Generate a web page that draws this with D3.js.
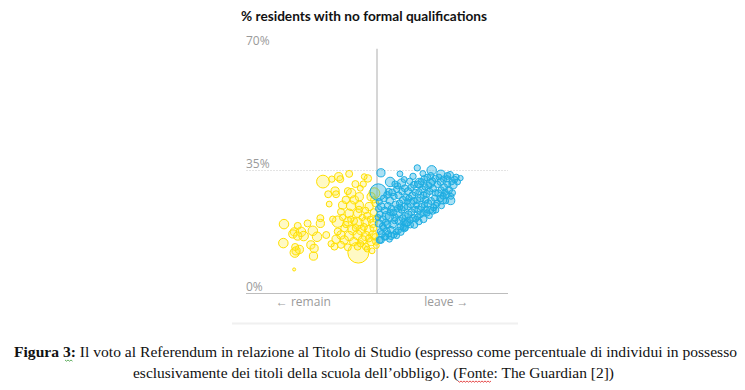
<!DOCTYPE html>
<html><head><meta charset="utf-8">
<script src="https://cdn.jsdelivr.net/npm/d3@7"></script>
<style>
body{margin:0;background:#fff;}
svg{display:block;}
</style></head>
<body>
<svg id="chart" width="745" height="390"></svg>
<script>
// ---- data: [leave %, % no formal qualifications, population (thousands)] ----
const remainAreas = [
[33.5,31.7,590],[36.2,32.4,100],[38.3,33.1,200],[38.8,32.4,130],[41.5,33.9,130],[47.2,32.6,160],
[43.4,31.0,130],[35.1,28.1,130],[37.2,29.0,200],[37.5,28.1,130],[41.1,29.0,130],[42.1,28.4,290],
[44.9,29.8,80],[48.2,27.4,200],[40.5,26.5,160],[43.1,26.5,200],[44.6,27.4,200],[35.4,25.3,80],
[39.5,25.0,200],[42.1,24.8,290],[44.6,25.0,200],[47.6,24.6,200],[39.0,23.1,130],[41.5,22.7,200],
[44.1,22.7,200],[38.0,20.3,450],[41.1,20.3,200],[44.1,19.8,450],[46.6,20.3,290],[48.7,19.8,200],
[40.0,18.4,130],[42.6,17.9,290],[45.1,17.9,290],[47.6,17.9,290],[39.0,16.5,200],[41.5,16.2,290],
[44.1,16.5,290],[46.6,16.2,290],[48.7,16.5,200],[37.5,15.3,200],[40.0,15.1,200],[42.9,14.6,200],
[45.6,15.1,200],[48.2,14.6,200],[37.0,13.2,130],[39.0,13.7,130],[41.1,13.0,130],[44.1,13.2,130],
[44.3,11.5,1800],[46.6,13.2,130],[49.7,14.6,130],
[21.6,19.6,290],[21.4,14.2,290],[24.8,17.4,200],[25.8,19.1,130],[24.3,16.8,200],[26.8,17.4,290],
[27.6,16.2,290],[25.8,16.2,200],[25.3,12.0,200],[25.0,13.1,130],[26.3,12.4,200],[24.9,11.5,290],
[28.8,19.8,130],[30.4,17.7,290],[31.7,16.0,290],[32.7,21.3,130],[32.7,19.8,200],[29.8,13.7,200],
[30.8,12.7,200],[30.6,10.5,200],[24.7,6.7,8],
[49.2,28.4,400],[49.5,25.5,130],[49.0,23.0,130],[49.6,21.0,100],[48.9,18.5,130],[49.4,16.0,100],
[49.8,13.5,80],[47.0,22.0,130],[46.0,18.8,130],[45.5,21.5,100],[47.5,15.5,130],[43.0,20.5,130],
[45.0,14.0,100],[48.0,21.0,100],[46.5,23.5,100],[43.5,18.5,130],[40.5,19.5,100],[39.5,21.5,100],
[47.0,12.5,80],[48.5,12.0,80],[42.0,21.0,100],[44.5,23.8,100],[36.5,21.0,100],[38.0,17.5,130],
[34.5,16.5,130],[36.0,14.0,100],[49.0,26.5,100],[46.1,33.1,80],[45.8,31.0,100]
];
const leaveAreas = [
[51.2,34.2,200],[54.0,31.6,290],[57.5,31.3,200],[57.0,33.9,80],[62.3,35.6,100],[66.7,34.9,290],
[69.5,33.8,200],[75.5,32.7,60],[62.9,31.3,290],[66.3,31.2,200],[73.2,30.8,200],[70.0,26.5,200],
[72.5,26.3,200],[67.0,23.4,130],[64.2,21.0,130],[61.4,19.4,130],[58.3,18.4,130],[54.3,16.2,130],
[51.2,15.1,130],[71.5,33.3,130],
[50.8,15.1,130],[51.5,16.8,130],[52.0,18.5,100],[50.6,19.8,160],[51.8,21.0,130],[50.9,22.4,100],
[52.4,23.5,130],[51.3,24.6,160],[50.7,26.0,100],[52.1,26.9,130],[52.6,20.1,100],[53.0,17.6,130],
[52.8,22.0,200],[53.3,24.8,130],[51.0,17.5,80],[50.3,21.5,80],[50.5,24.0,100],[51.7,19.0,100],
[52.3,15.9,100],[53.1,27.9,130],
[53.5,16.8,100],[54.2,18.0,130],[54.8,19.5,160],[55.4,20.6,100],[53.8,21.8,200],[55.0,22.9,130],
[54.4,24.1,100],[55.7,25.2,130],[53.9,26.3,160],[55.2,27.5,100],[54.6,28.6,130],[56.0,29.5,100],
[55.9,17.4,80],[54.0,23.0,100],[55.5,21.5,130],[53.2,19.5,130],[56.2,24.0,100],[53.6,28.8,130],
[56.5,17.8,100],[57.2,19.0,130],[58.0,18.7,100],[56.8,20.5,160],[57.8,21.3,130],[58.6,22.0,100],
[56.4,22.8,200],[57.5,23.7,130],[58.3,24.5,160],[56.9,25.6,100],[57.9,26.5,130],[58.8,27.2,100],
[56.6,27.8,130],[57.6,28.9,100],[58.5,29.8,130],[56.3,30.5,100],[59.0,19.8,100],[57.0,24.5,80],
[58.1,20.2,80],
[59.3,20.0,130],[60.1,20.8,100],[61.0,21.4,130],[59.6,22.3,160],[60.5,23.0,130],[61.5,23.8,100],
[59.4,24.6,130],[60.3,25.5,200],[61.2,26.2,130],[59.8,27.0,100],[60.8,27.8,130],[61.7,28.6,100],
[59.5,29.0,130],[60.4,30.0,100],[61.3,30.8,130],[60.0,31.8,100],[61.8,21.0,80],[62.0,25.0,100],
[59.2,26.0,80],
[62.4,21.6,100],[63.2,22.4,130],[64.1,22.9,100],[62.7,23.7,160],[63.6,24.5,130],[64.5,25.1,100],
[62.3,26.4,130],[63.3,27.0,160],[64.2,27.8,130],[62.8,28.8,100],[63.8,29.5,130],[64.7,30.2,100],
[62.5,30.9,130],[63.5,31.7,100],[64.4,32.4,130],[65.0,23.8,100],[64.8,26.5,130],
[65.3,22.8,100],[66.2,23.6,130],[67.3,24.3,100],[65.6,25.5,160],[66.5,26.2,130],[67.6,27.0,100],
[65.2,28.2,130],[66.1,28.9,100],[67.1,29.7,130],[65.8,30.6,100],[66.9,31.8,130],[67.8,32.6,100],
[65.4,32.8,130],[66.4,33.4,100],[68.0,25.0,80],[67.8,28.5,100],
[68.4,25.6,100],[69.3,26.9,130],[70.2,27.6,100],[68.7,28.4,130],[69.6,29.3,100],[70.5,30.1,130],
[68.5,30.9,100],[69.4,31.6,130],[70.3,32.4,100],[68.9,33.0,80],[70.8,28.7,100],
[71.2,28.0,100],[72.0,29.3,130],[71.6,30.9,100],[72.8,31.6,80],[73.7,32.3,100],[71.4,32.5,100],
[72.3,33.6,130],[74.2,33.0,80],[73.0,28.5,100],[74.6,31.6,80],[72.6,27.5,80],
[52.7,16.0,100],[53.8,15.3,80],[55.2,16.6,100],[56.0,16.3,80],[57.3,17.3,100],[58.7,18.5,80],
[60.2,19.4,100],[62.8,20.3,100],[66.0,22.0,80],[68.0,23.6,80],[69.7,24.8,80],[71.0,26.2,80],
[55.5,31.0,100],[58.3,32.3,80],[64.0,34.0,80],[61.0,33.2,100],
[50.4,28.7,1070]
];
const yTicks = [0, 35, 70];
const sideLabels = ["← remain", "leave →"];
const sideLabelAt = [27.5, 71.2];
const titleText = "% residents with no formal qualifications";
const captionBold = "Figura 3:";
const captionLine1 = " Il voto al Referendum in relazione al Titolo di Studio (espresso come percentuale di individui in possesso";
const captionLine2 = "esclusivamente dei titoli della scuola dell’obbligo). (Fonte: The Guardian [2])";

// ---- drawing ----
const svg = d3.select("#chart");
const x = d3.scaleLinear().domain([10, 90]).range([246, 508]);
const y = d3.scaleLinear().domain([0, 70]).range([293, 47]);
const r = d3.scaleSqrt().domain([0, 1800]).range([0.9, 10.5]);

svg.append("text").attr("x", 241).attr("y", 21)
  .attr("font-family", "Lato, 'Open Sans', sans-serif").attr("font-weight", 700)
  .attr("font-size", 13.6).attr("fill", "#121212")
  .attr("textLength", 246).attr("lengthAdjust", "spacingAndGlyphs").text(titleText);

// y axis with gridlines
const ax = svg.append("g").attr("transform", `translate(${x.range()[0]},0)`)
  .call(d3.axisRight(y).tickValues(yTicks).tickSize(x.range()[1] - x.range()[0]).tickFormat(d => d + "%"));
ax.select(".domain").remove();
ax.selectAll(".tick line")
  .attr("stroke", d => d === 0 ? "#bdbdbd" : "#e4e4e4")
  .attr("stroke-dasharray", d => d === 0 ? null : "2,1")
  .attr("stroke-width", d => d === 0 ? 1.2 : 1)
  .attr("opacity", d => d === 70 ? 0 : 1);
ax.selectAll(".tick text")
  .attr("x", 0).attr("y", 0).attr("dy", -3).attr("text-anchor", "start")
  .attr("font-family", "'Open Sans', sans-serif").attr("font-size", 12)
  .attr("fill", "#9a9a9a");

// centre line at 50%
svg.append("line").attr("x1", x(50)).attr("x2", x(50))
  .attr("y1", y(69.5)).attr("y2", y(0))
  .attr("stroke", "#c8c8c8").attr("stroke-width", 1.5);

// points
const yellowStroke = "#ffe000", yellowFill = "rgba(255,236,60,0.3)";
const blueStroke = "#1eade2", blueFill = "rgba(30,173,226,0.38)";
svg.append("g").selectAll("circle").data(remainAreas.slice().sort((a, b) => b[2] - a[2])).join("circle")
  .attr("cx", d => x(d[0])).attr("cy", d => y(d[1])).attr("r", d => r(d[2]))
  .attr("fill", yellowFill).attr("stroke", yellowStroke).attr("stroke-width", 1);
svg.append("g").selectAll("circle").data(leaveAreas.slice().sort((a, b) => b[2] - a[2])).join("circle")
  .attr("cx", d => x(d[0])).attr("cy", d => y(d[1])).attr("r", d => r(d[2]))
  .attr("fill", blueFill).attr("stroke", blueStroke).attr("stroke-width", 1);

// side labels
svg.append("g").selectAll("text").data(sideLabels).join("text")
  .attr("x", (d, i) => x(sideLabelAt[i])).attr("y", 306).attr("text-anchor", "middle")
  .attr("font-family", "'Open Sans', sans-serif").attr("font-size", 12)
  .attr("fill", "#9a9a9a").text(d => d);

// separator
svg.append("line").attr("x1", 232).attr("x2", 518).attr("y1", 323.5).attr("y2", 323.5)
  .attr("stroke", "#f0f0f0").attr("stroke-width", 2);

// caption
const serif = "'Liberation Serif', 'Times New Roman', serif";
const cap1 = svg.append("text").attr("x", 14).attr("y", 357)
  .attr("font-family", serif).attr("font-size", 15)
  .attr("fill", "#111").attr("textLength", 723).attr("lengthAdjust", "spacingAndGlyphs");
cap1.append("tspan").attr("font-weight", 700).text(captionBold);
cap1.append("tspan").text(captionLine1);
svg.append("text").attr("x", 133).attr("y", 378)
  .attr("font-family", serif).attr("font-size", 15)
  .attr("fill", "#111").attr("textLength", 481).attr("lengthAdjust", "spacingAndGlyphs").text(captionLine2);

// spell-check squiggles
function squiggle(x0, x1, yy, col) {
  let p = `M${x0},${yy}`;
  for (let xx = x0, k = 0; xx < x1; xx += 1.5, k++) p += `L${xx + 1.5},${yy + (k % 2 ? 0 : 1.2)}`;
  svg.append("path").attr("d", p).attr("fill", "none").attr("stroke", col).attr("stroke-width", 0.8);
}
squiggle(65, 72, 360, "#3a9b3a");
squiggle(458, 491, 381, "#e02020");
</script>
</body></html>
